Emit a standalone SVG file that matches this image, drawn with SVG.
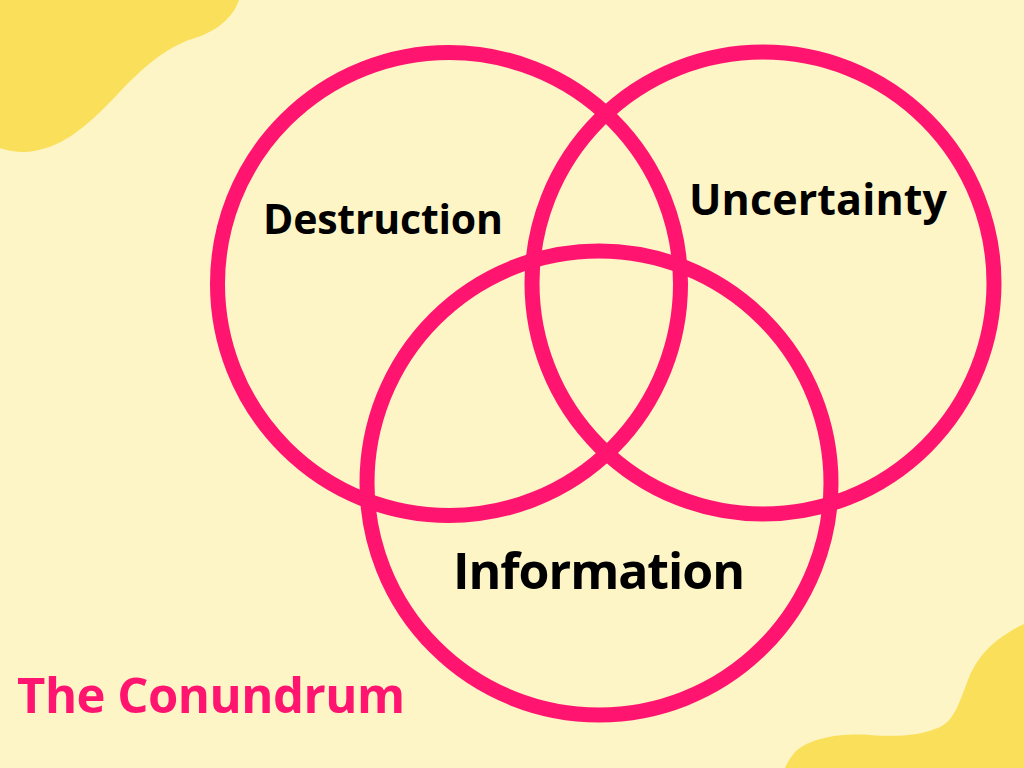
<svg xmlns="http://www.w3.org/2000/svg" width="1024" height="768" viewBox="0 0 1024 768">
<style>
.bg{fill:#FDF5C6}
.blob{fill:#FAE05A}
.ring{fill:none;stroke:#FF1470;stroke-width:15}
.lbl{font-family:"Open Sans","Noto Sans",sans-serif;font-weight:700;fill:#000}
.title{font-family:"Open Sans","Noto Sans",sans-serif;font-weight:700;fill:#FF1470}
</style>
<rect class="bg" x="0" y="0" width="1024" height="768"/>
<path class="blob" d="M0,0 L239,0 C234,15 220,30 195,38 C165,47 140,70 115,97 C85,128 60,150 25,152 C15,152 5,150 0,148 Z"/>
<path class="blob" d="M1024,624 C995,638 978,655 968,680 C960,700 955,720 940,727 C920,736 895,737 870,735 C840,733 810,738 795,752 C790,758 787,763 785,768 L1024,768 Z"/>
<g id="node-destruction">
<circle class="ring" cx="449" cy="284" r="231.5"/>
<text class="lbl" x="263" y="234" font-size="41" textLength="240">Destruction</text>
</g>
<g id="node-uncertainty">
<circle class="ring" cx="763" cy="283" r="231"/>
<text class="lbl" x="689" y="215" font-size="43" textLength="258">Uncertainty</text>
</g>
<g id="node-information">
<circle class="ring" cx="599" cy="483" r="232"/>
<text class="lbl" x="453" y="589" font-size="50" textLength="292">Information</text>
</g>
<g id="connectors"></g>
<text class="title" x="17" y="713" font-size="49" textLength="388">The Conundrum</text>
</svg>
